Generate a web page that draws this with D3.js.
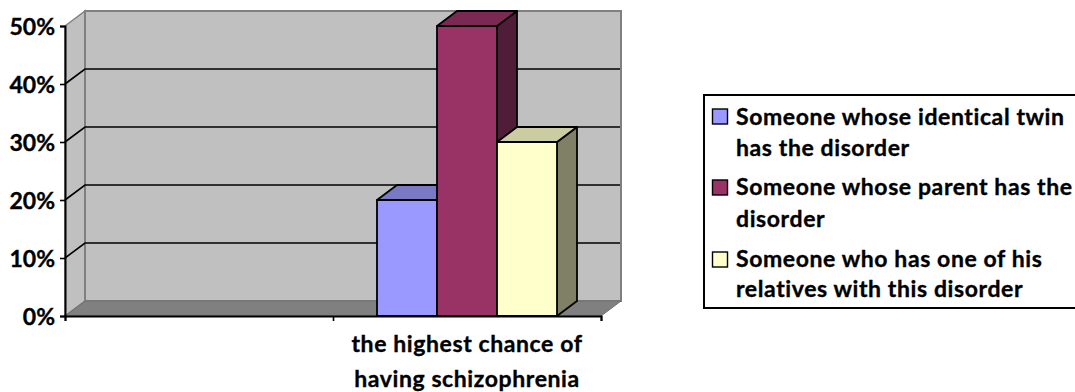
<!DOCTYPE html>
<html>
<head>
<meta charset="utf-8">
<script src="https://cdn.jsdelivr.net/npm/d3@7/dist/d3.min.js"></script>
<style>
html, body { margin: 0; padding: 0; background: #fff; overflow: hidden; }
svg { display: block; }
text { font-family: Lato, "Open Sans", sans-serif; font-weight: 700; fill: #000; stroke: #000; stroke-width: 0.35px; }
</style>
</head>
<body>
<svg id="chart" width="1075" height="392"></svg>
<script>
// Chance of developing the disorder, by relationship to an affected person
const category = "the highest chance of having schizophrenia";
const categoryLines = ["the highest chance of", "having schizophrenia"];
const seriesNames = ["identical", "parent", "relatives"];
const seriesValues = [20, 50, 30];
const seriesColors = ["#9999ff", "#993366", "#ffffcc"];
const seriesTops = ["#7a7ac4", "#7a2952", "#cccca3"];
const seriesSides = ["#5c5c99", "#4f1d38", "#808066"];
const legendLines = [
  ["Someone whose identical twin", "has the disorder"],
  ["Someone whose parent has the", "disorder"],
  ["Someone who has one of his", "relatives with this disorder"]
];
const yTicks = [0, 10, 20, 30, 40, 50];

const svg = d3.select("#chart");
const depthX = 20, depthY = -15;

const y = d3.scaleLinear().domain([0, 50]).range([316, 26]);
const xOuter = d3.scaleBand().domain(["", category]).range([65, 601]);
const barBand = d3.scaleBand()
  .domain(seriesNames)
  .range([xOuter(category) + 44, xOuter(category) + 224]);

const poly = pts => pts.map(p => p.join(",")).join(" ");
const plot = svg.append("g");
const [xL, xR] = xOuter.range();

// Side wall, back wall and floor
plot.append("polygon")
  .attr("points", poly([[xL, y(0)], [xL + depthX, y(0) + depthY], [xL + depthX, y(50) + depthY], [xL, y(50)]]))
  .attr("fill", "#c0c0c0").attr("stroke", "#808080").attr("stroke-width", 1.5);
plot.append("rect")
  .attr("x", xL + depthX).attr("y", y(50) + depthY)
  .attr("width", xR - xL).attr("height", y(0) - y(50))
  .attr("fill", "#c0c0c0").attr("stroke", "#808080").attr("stroke-width", 2);
plot.append("polygon")
  .attr("points", poly([[xL, y(0)], [xL + depthX, y(0) + depthY], [xR + depthX, y(0) + depthY], [xR, y(0)]]))
  .attr("fill", "#808080").attr("stroke", "#6e6e6e").attr("stroke-width", 1);

// Gridlines run along the side wall and across the back wall
plot.selectAll(".grid")
  .data(yTicks.filter(t => t > 0 && t < 50))
  .join("polyline")
  .attr("class", "grid")
  .attr("points", t => poly([[xL, y(t)], [xL + depthX, y(t) + depthY], [xR + depthX - 1, y(t) + depthY]]))
  .attr("fill", "none").attr("stroke", "#000").attr("stroke-width", 1.6);

// Extruded columns
const bars = plot.selectAll(".bar")
  .data(seriesNames.map((name, i) => ({ name, i, value: seriesValues[i] })))
  .join("g").attr("class", "bar");
const barStroke = g => g.attr("stroke", "#000").attr("stroke-width", 1.8).attr("stroke-linejoin", "round");

bars.append("polygon")
  .attr("points", d => {
    const x1 = barBand(d.name) + barBand.bandwidth();
    return poly([[x1, y(0)], [x1 + depthX, y(0) + depthY], [x1 + depthX, y(d.value) + depthY], [x1, y(d.value)]]);
  })
  .attr("fill", d => seriesSides[d.i]).call(barStroke);
bars.append("polygon")
  .attr("points", d => {
    const x0 = barBand(d.name), x1 = x0 + barBand.bandwidth();
    return poly([[x0, y(d.value)], [x0 + depthX, y(d.value) + depthY], [x1 + depthX, y(d.value) + depthY], [x1, y(d.value)]]);
  })
  .attr("fill", d => seriesTops[d.i]).call(barStroke);
bars.append("rect")
  .attr("x", d => barBand(d.name))
  .attr("y", d => y(d.value))
  .attr("width", barBand.bandwidth())
  .attr("height", d => y(0) - y(d.value))
  .attr("fill", d => seriesColors[d.i]).call(barStroke);

// Value axis
const yAxis = d3.axisLeft(y).tickValues(yTicks).tickFormat(d => d + "%").tickSize(5).tickPadding(5);
const yG = svg.append("g").attr("transform", `translate(${xL},0)`).call(yAxis);
yG.select(".domain").attr("stroke", "#000").attr("stroke-width", 2);
yG.selectAll("line").attr("stroke", "#000").attr("stroke-width", 1.6);
yG.selectAll("text").attr("font-size", 23).attr("dy", "0.39em");

// Category axis with ticks on the band edges
const edges = d3.scaleLinear().domain([0, 2]).range([xL, xR]);
const xAxis = d3.axisBottom(edges).tickValues([0, 1, 2]).tickFormat("").tickSize(5);
const xG = svg.append("g").attr("transform", `translate(0,${y(0)})`).call(xAxis);
xG.select(".domain").attr("stroke", "#000").attr("stroke-width", 2);
xG.selectAll("line").attr("stroke", "#000").attr("stroke-width", 1.6);

svg.append("g").selectAll("text")
  .data(categoryLines)
  .join("text")
  .attr("x", xOuter(category) + xOuter.bandwidth() / 2)
  .attr("y", (d, i) => 351.5 + i * 35)
  .attr("text-anchor", "middle")
  .attr("font-size", 23)
  .attr("letter-spacing", 0.6)
  .text(d => d);

// Legend box, running off the right side of the page
const legend = svg.append("g");
legend.append("rect")
  .attr("x", 704).attr("y", 95).attr("width", 400).attr("height", 213)
  .attr("fill", "#fff").attr("stroke", "#000").attr("stroke-width", 2);
const swatchY = [109, 180, 252];
const lineY = [[125, 156], [195, 227], [267, 297]];
legendLines.forEach((lines, i) => {
  legend.append("rect")
    .attr("x", 712.5).attr("y", swatchY[i]).attr("width", 15).attr("height", 15)
    .attr("fill", seriesColors[i]).attr("stroke", "#000").attr("stroke-width", 1.4);
  lines.forEach((t, j) => {
    legend.append("text")
      .attr("x", 736).attr("y", lineY[i][j])
      .attr("font-size", 23)
      .attr("letter-spacing", 0.6)
      .text(t);
  });
});
</script>
</body>
</html>
